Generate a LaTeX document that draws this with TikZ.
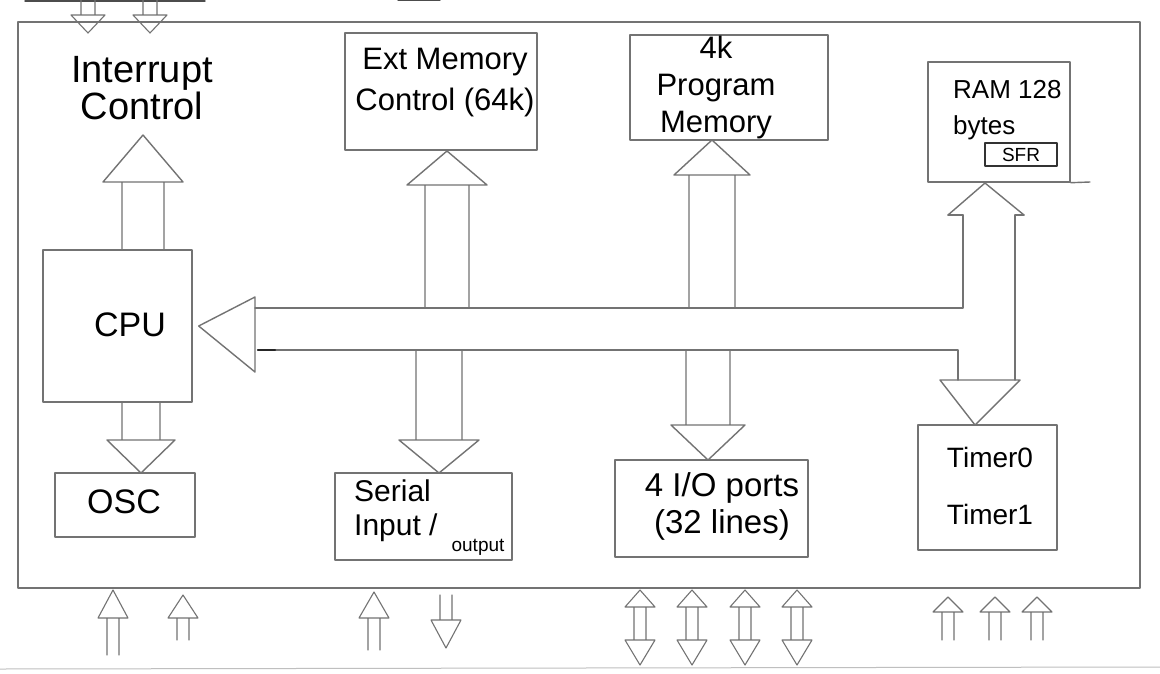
\documentclass[tikz,border=0pt]{standalone}
\usepackage{fontspec}
\setmainfont{Liberation Sans}
\usetikzlibrary{calc}
\tikzset{
  pencil/.style={draw=black!55, line width=1.4pt, line join=round, line cap=round},
  blk/.style={pencil, rectangle, inner sep=0pt},
  hand/.style={text=black, inner sep=0pt, align=center},
}
% big hollow bus arrow: centre x, half shaft gap, shaft start y, head base y, head half width, tip y
\newcommand\busarr[6]{\draw[pencil] (#1-#2,#3)--(#1-#2,#4) (#1+#2,#3)--(#1+#2,#4) (#1-#5,#4)--(#1,#6)--(#1+#5,#4)--cycle;}
% small hollow arrow: x, tail y, head base y, tip y
\newcommand\pinarr[4]{\draw[pencil,line width=1.1pt] (#1-6,#2)--(#1-6,#3) (#1+6,#2)--(#1+6,#3) (#1-15,#3)--(#1,#4)--(#1+15,#3)--cycle;}
\newcommand\dblarr[1]{\draw[pencil,line width=1.1pt] (#1-6,607)--(#1-6,640) (#1+6,607)--(#1+6,640)
   (#1-15,607)--(#1,590)--(#1+15,607)--cycle (#1-15,640)--(#1,665)--(#1+15,640)--cycle;}
\begin{document}
\begin{tikzpicture}[x=1pt,y=-1pt]
\useasboundingbox (0,0) rectangle (1160,673);
\fill[white] (0,0) rectangle (1160,673);

% paper edges / cut-off parts
\draw[pencil,draw=black!70] (25,1)--(205,1);
\draw[pencil,draw=black!70] (398,0)--(440,0);
\draw[pencil,draw=black!25,line width=1pt] (0,669)--(1160,667);

% outer chip boundary
\node[blk, minimum width=1122, minimum height=566] (chip) at (579,305) {};

% blocks
\node[blk, minimum width=192, minimum height=117] (ext) at (441,91.5) {};
\node[blk, minimum width=198, minimum height=105] (prog) at (729,87.5) {};
\node[blk, minimum width=142, minimum height=120] (ram) at (999,122) {};
\node[blk, minimum width=72, minimum height=23, font=\fontsize{19}{20}\selectfont, text=black, line width=1.6pt, draw=black!80] (sfr) at (1021,154.5) {SFR};
\node[blk, minimum width=149, minimum height=152] (cpu) at (117.5,326) {};
\node[blk, minimum width=140, minimum height=64] (osc) at (125,505) {};
\node[blk, minimum width=177, minimum height=87] (serial) at (423.5,516.5) {};
\node[blk, minimum width=193, minimum height=97] (io) at (711.5,508.5) {};
\node[blk, minimum width=139, minimum height=125] (timer) at (987.5,487.5) {};
\draw[pencil] (ram.south east)--(1090,182);

% texts
\node[hand, font=\fontsize{38}{37}\selectfont] (intc) at (142,88) {Interrupt\\Control};
\node[hand, font=\fontsize{31}{41}\selectfont] (extt) at (445,83) {Ext Memory\\Control (64k)};
\node[hand, font=\fontsize{31}{37}\selectfont] (progt) at (716,87) {4k\\Program\\Memory};
\node[hand, font=\fontsize{26}{36}\selectfont, align=left, anchor=west] (ramt) at (953,110) {RAM 128\\bytes};
\node[hand, font=\fontsize{34}{36}\selectfont] (cput) at (130,325) {CPU};
\node[hand, font=\fontsize{34}{36}\selectfont] (osct) at (124,502) {OSC};
\node[hand, font=\fontsize{30}{34}\selectfont, align=left, anchor=west] (sert) at (354,511) {Serial\\Input /};
\node[hand, font=\fontsize{19}{20}\selectfont] (outt) at (478,547) {output};
\node[hand, font=\fontsize{33}{37}\selectfont] (iot) at (722,506) {4 I/O ports\\(32 lines)};
\node[hand, font=\fontsize{28}{57}\selectfont] (timt) at (990,486) {Timer0\\Timer1};

% top external arrows (cut off)
\draw[pencil,line width=1.1pt] (81,0)--(81,15) (95,0)--(95,15) (71,15)--(88,33)--(105,15)--cycle;
\draw[pencil,line width=1.1pt] (143,0)--(143,15) (157,0)--(157,15) (133,15)--(150,33)--(167,15)--cycle;

% internal bus arrows
\busarr{143}{21}{250}{182}{40}{135}   % CPU -> interrupt control
\busarr{447}{22}{308}{185}{40}{151}   % bus -> ext memory
\busarr{439}{23}{350}{440}{40}{473}   % bus -> serial
\busarr{712}{23}{308}{175}{38}{140}   % bus -> program memory
\busarr{708}{22}{350}{425}{37}{460}   % bus -> I/O ports
\busarr{141}{19}{402}{440}{34}{473}   % CPU -> OSC

% main bus to CPU
\coordinate (bt) at (255,308);
\coordinate (bb) at (258,350);
\coordinate (ct) at ($(cpu.east)+(6,0)$);
\draw[pencil] (255,297)--(ct)--(255,372)--cycle;
\draw[pencil] (bt)--(963,308)--(963,215);
\draw[pencil] (bb)--(958,350)--(958,380);
\draw[pencil,draw=black!85,line width=2.2pt] (258,350)--(275,350);
% RAM <-> timer double arrow
\draw[pencil] (1015,215)--(1015,380);
\draw[pencil] (948,215)--(985,183)--(1024,215);
\draw[pencil] (948,215)--(963,215) (1015,215)--(1024,215);
\draw[pencil] (940,380)--(975,425)--(1020,380)--cycle;

% pins below chip
\pinarr{113}{655}{618}{590}
\pinarr{183}{640}{618}{595}
\pinarr{374}{650}{618}{592}
\draw[pencil,line width=1.1pt] (440,595)--(440,620) (452,595)--(452,620) (431,620)--(446,648)--(461,620)--cycle;
\dblarr{640}\dblarr{692}\dblarr{745}\dblarr{797}
\pinarr{948}{640}{612}{597}
\pinarr{995}{640}{612}{597}
\pinarr{1037}{640}{612}{597}
\end{tikzpicture}
\end{document}
